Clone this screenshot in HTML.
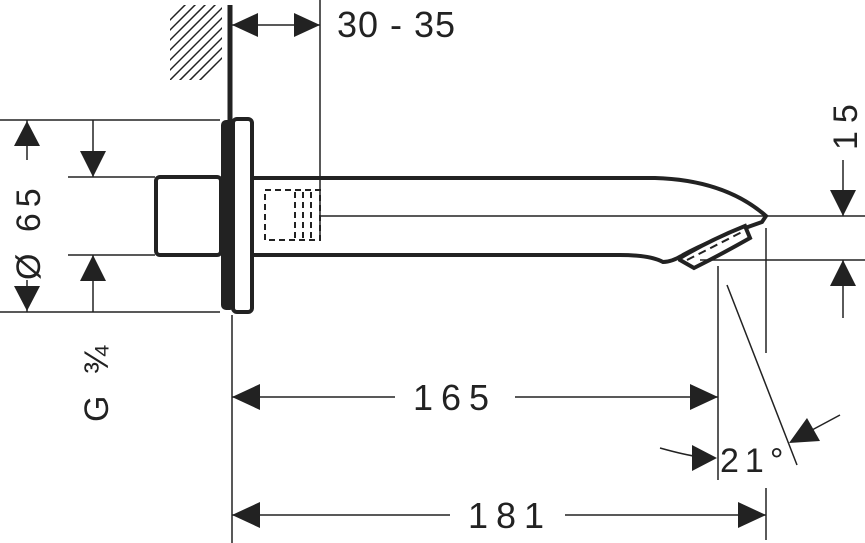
<!DOCTYPE html>
<html><head><meta charset="utf-8"><style>html,body{margin:0;padding:0;background:#fff}svg{display:block}</style></head><body>
<svg width="865" height="543" viewBox="0 0 865 543" xmlns="http://www.w3.org/2000/svg" font-family="Liberation Sans, sans-serif" fill="none" stroke="#222">
<defs>
<clipPath id="c"><rect x="170" y="5" width="52" height="75"/></clipPath>
</defs>
<g clip-path="url(#c)" stroke-width="1.5">
<line x1="150" y1="90" x2="240" y2="0"/><line x1="160" y1="90" x2="250" y2="0"/>
<line x1="140" y1="90" x2="230" y2="0"/><line x1="130" y1="90" x2="220" y2="0"/>
<line x1="120" y1="90" x2="210" y2="0"/><line x1="110" y1="90" x2="200" y2="0"/>
<line x1="100" y1="90" x2="190" y2="0"/><line x1="170" y1="90" x2="260" y2="0"/>
<line x1="180" y1="90" x2="270" y2="0"/><line x1="190" y1="90" x2="280" y2="0"/>
</g>
<line x1="230" y1="5" x2="230" y2="125" stroke-width="5"/>
<line x1="320" y1="0" x2="320" y2="240" stroke-width="1.5"/>
<line x1="232" y1="25" x2="320" y2="25" stroke-width="1.5"/>
<polygon points="232,25 258,13 258,37" fill="#222" stroke="none"/>
<polygon points="320,25 294,13 294,37" fill="#222" stroke="none"/>
<text x="337" y="37" font-size="36" fill="#222" stroke="none" letter-spacing="1">30 - 35</text>
<rect x="221" y="120" width="14" height="190" rx="5" fill="#222" stroke="none"/>
<rect x="233" y="119" width="19" height="193" rx="4" stroke-width="4" fill="#fff"/>
<rect x="156" y="177" width="65" height="78" rx="4" stroke-width="4"/>
<path d="M252,178 L655,178 Q725,180 766,216 L762,222 Q710,240 683,255 Q672,262 663,262 Q650,255 620,255 L252,255" stroke-width="4"/>
<path d="M680,260 L694,268 Q720,255 750,238 L745,226 Q710,240 680,258 Z" stroke-width="4" fill="#fff"/>
<line x1="687" y1="260" x2="742" y2="232" stroke-width="2" stroke-dasharray="8,5"/>
<g stroke-width="2" stroke-dasharray="6,4">
<rect x="265" y="190" width="55" height="50"/>
<line x1="295" y1="192" x2="295" y2="240"/>
<line x1="303" y1="192" x2="303" y2="240"/>
<line x1="311" y1="192" x2="311" y2="240"/>
</g>
<line x1="320" y1="216" x2="865" y2="216" stroke-width="1.5"/>
<g stroke-width="1.5">
<line x1="0" y1="120" x2="220" y2="120"/>
<line x1="0" y1="312" x2="220" y2="312"/>
<line x1="68" y1="177" x2="155" y2="177"/>
<line x1="68" y1="255" x2="155" y2="255"/>
<line x1="27" y1="120" x2="27" y2="312"/>
<line x1="93" y1="120" x2="93" y2="177"/>
<line x1="93" y1="255" x2="93" y2="312"/>
</g>
<rect x="8" y="160" width="40" height="120" fill="#fff" stroke="none"/>
<polygon points="27,121 14,146 40,146" fill="#222" stroke="none"/>
<polygon points="27,311 14,286 40,286" fill="#222" stroke="none"/>
<polygon points="93,177 80,151 106,151" fill="#222" stroke="none"/>
<polygon points="93,255 80,281 106,281" fill="#222" stroke="none"/>
<text transform="translate(40,280) rotate(-90)" font-size="34" fill="#222" stroke="none" letter-spacing="6">Ø 65</text>
<text transform="translate(108,422) rotate(-90)" font-size="34" fill="#222" stroke="none" letter-spacing="6">G ¾</text>
<g stroke-width="1.5">
<line x1="700" y1="260" x2="865" y2="260"/>
<line x1="843" y1="160" x2="843" y2="216"/>
<line x1="843" y1="260" x2="843" y2="318"/>
<line x1="766" y1="228" x2="766" y2="353"/>
<line x1="718" y1="266" x2="718" y2="480"/>
<line x1="232" y1="315" x2="232" y2="543"/>
<line x1="766" y1="488" x2="766" y2="540"/>
<line x1="727" y1="285" x2="797" y2="465"/>
</g>
<polygon points="843,216 830,190 856,190" fill="#222" stroke="none"/>
<polygon points="843,260 830,286 856,286" fill="#222" stroke="none"/>
<text transform="translate(857,150) rotate(-90)" font-size="34" fill="#222" stroke="none" letter-spacing="8">15</text>
<line x1="232" y1="397" x2="395" y2="397" stroke-width="1.5"/>
<line x1="515" y1="397" x2="718" y2="397" stroke-width="1.5"/>
<polygon points="232,397 260,384 260,410" fill="#222" stroke="none"/>
<polygon points="718,397 690,384 690,410" fill="#222" stroke="none"/>
<text x="455" y="410" font-size="36" fill="#222" stroke="none" text-anchor="middle" letter-spacing="8">165</text>
<line x1="232" y1="515" x2="450" y2="515" stroke-width="1.5"/>
<line x1="565" y1="515" x2="766" y2="515" stroke-width="1.5"/>
<polygon points="232,515 260,502 260,528" fill="#222" stroke="none"/>
<polygon points="766,515 738,502 738,528" fill="#222" stroke="none"/>
<text x="510" y="528" font-size="36" fill="#222" stroke="none" text-anchor="middle" letter-spacing="8">181</text>
<path d="M660,448 Q685,455 700,457" stroke-width="1.5"/>
<polygon points="717,458 692,445 692,471" fill="#222" stroke="none"/>
<line x1="840" y1="415" x2="812" y2="430" stroke-width="1.5"/>
<polygon points="789,443 820,441 807,418" fill="#222" stroke="none"/>
<text x="720" y="472" font-size="34" fill="#222" stroke="none" letter-spacing="6">21°</text>
</svg>
</body></html>
